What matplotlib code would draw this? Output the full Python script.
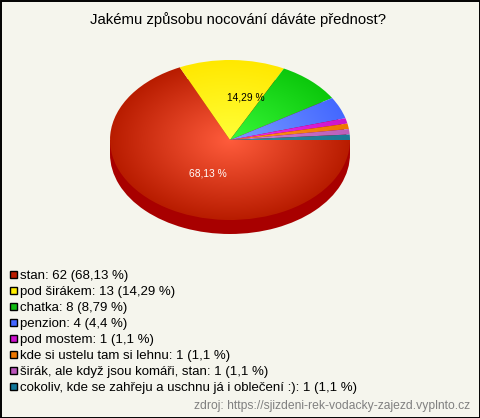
import numpy as np
import matplotlib
matplotlib.use('Agg')
import matplotlib.pyplot as plt
from matplotlib.colors import LinearSegmentedColormap
from matplotlib.patches import Rectangle

plt.rcParams['font.family'] = ['Liberation Sans', 'DejaVu Sans']

title = 'Jakému způsobu nocování dáváte přednost?'
labels = ['stan', 'pod širákem', 'chatka', 'penzion', 'pod mostem',
          'kde si ustelu tam si lehnu', 'širák, ale když jsou komáři, stan',
          'cokoliv, kde se zahřeju a uschnu já i oblečení :)']
counts = [62, 13, 8, 4, 1, 1, 1, 1]
percents = ['68,13', '14,29', '8,79', '4,4', '1,1', '1,1', '1,1', '1,1']
centre_cols = ['#ff5c3c', '#ffff38', '#38f838', '#7a9cff', '#f030f0', '#ff9a20', '#d080d0', '#3a8a9a']
edge_cols = ['#b81c00', '#ffe800', '#0cc80c', '#4468ff', '#cc14cc', '#ee7700', '#bb60bb', '#1a7a96']
legend_cols = ['#bb1c00', '#ffee00', '#11bb11', '#4466ff', '#cc11cc', '#ee7700', '#bb55bb', '#117799']
source = 'zdroj: https://sjizdeni-rek-vodacky-zajezd.vyplnto.cz'

W, H = 480, 418
BG = '#f5f5ed'

fig = plt.figure(figsize=(W / 100, H / 100), dpi=100, facecolor=BG)

# whole figure layer in pixels, for the texts and legend
bg = fig.add_axes([0, 0, 1, 1])
bg.set_xlim(0, W)
bg.set_ylim(H, 0)
bg.axis('off')
bg.add_patch(Rectangle((0.5, 0.5), W - 1, H - 1, fill=False, ec='black', lw=1.4))
bg.text(238.5, 20, title, ha='center', va='center', fontsize=10.7, color='black')

# pie axes, one data unit is the radius of the ellipse
cx, cy, rx, ry, depth = 230, 140, 120, 80, 14
px_left, px_top, px_w, px_h = cx - 130, cy - 90, 260, 190
ax = fig.add_axes([px_left / W, 1 - (px_top + px_h) / H, px_w / W, px_h / H])
ax.axis('off')
d = depth / ry
ax.pie([1], center=(0, -d), colors=['#a80000'], radius=1)
ax.add_patch(Rectangle((-1, -d), 2, d, fc='#a80000', ec='none'))
wedges, _ = ax.pie(counts, startangle=0, counterclock=False, radius=1)
ax.set_aspect('auto')

yy, xx = np.mgrid[-1:1:300j, -1:1:300j]
rr = np.clip(np.hypot(xx, yy), 0, 1)
for w, c0, c1 in zip(wedges, centre_cols, edge_cols):
    w.set_facecolor('none')
    w.set_edgecolor('none')
    cmap = LinearSegmentedColormap.from_list('g', [c0, c1])
    im = ax.imshow(rr, extent=(-1, 1, -1, 1), cmap=cmap, vmin=0, vmax=1,
                   aspect='auto', zorder=2, interpolation='bilinear')
    im.set_clip_path(w)
ax.set_xlim((px_left - cx) / rx, (px_left + px_w - cx) / rx)
ax.set_ylim((cy - px_top - px_h) / ry, (cy - px_top) / ry)

bg.set_zorder(3)
bg.patch.set_alpha(0)
bg.text(208, 173, percents[0] + ' %', ha='center', va='center', fontsize=7.4, color='white')
bg.text(246, 97, percents[1] + ' %', ha='center', va='center', fontsize=7.4, color='black')

# legend
y0, step = 274, 16
for i, (lab, n, p, col) in enumerate(zip(labels, counts, percents, legend_cols)):
    y = y0 + i * step
    bg.add_patch(Rectangle((9.5, y - 3.5), 7, 7, fc=col, ec='black', lw=1))
    bg.text(19.5, y + 2, f'{lab}: {n} ({p} %)', ha='left', va='center', fontsize=9.55, color='black')

bg.text(470.5, 406.5, source, ha='right', va='center', fontsize=8.7, color='#808080')

fig.savefig('out.png', dpi=100, facecolor=BG)
